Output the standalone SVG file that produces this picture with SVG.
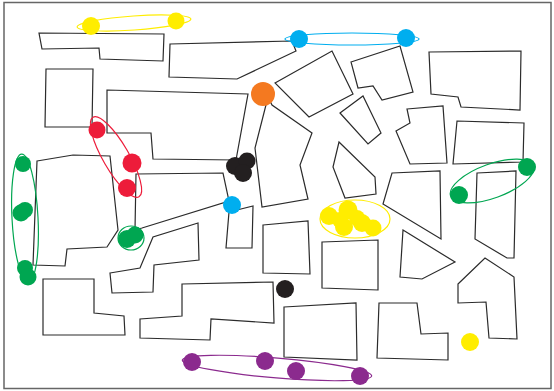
<svg xmlns="http://www.w3.org/2000/svg" width="554" height="391" viewBox="0 0 554 391">
<style>
.b{fill:none;stroke:#2b2b2b;stroke-width:1.2;stroke-linejoin:miter}
.frame{fill:#fff;stroke:#666;stroke-width:1.5}
.e{fill:none;stroke-width:1.2}
.y{fill:#FFED00}.ys{stroke:#FFED00}
.c{fill:#00AEEF}.cs{stroke:#00AEEF}
.r{fill:#ED1C3A}.rs{stroke:#ED1C3A}
.g{fill:#00A651}.gs{stroke:#00A651}
.p{fill:#8B2A8E}.ps{stroke:#8B2A8E}
.k{fill:#231F20}
.o{fill:#F47920}
</style>
<rect class="frame" x="4" y="2.5" width="547" height="386"/>
<g id="blocks">
<polygon class="b" points="39,33 164,34 163,61 100,59 99,48 42,49"/>
<polygon class="b" points="46,69 93,69 92,127 45,127"/>
<polygon class="b" points="107,90 248,94 236,160 153,159 151,133 107,133"/>
<polygon class="b" points="170,44 292,41 296,51 237,79 169,77"/>
<polygon class="b" points="268,97 255,148 262,207 308,199 300,165 312,133 272,105"/>
<polygon class="b" points="275,83 332,51 353,94 309,117"/>
<polygon class="b" points="351,62 400,46 413,92 382,100 373,86 358,88"/>
<polygon class="b" points="340,113 363,96 381,133 368,144"/>
<polygon class="b" points="429,52 521,51 520,110 461,107 458,97 431,94"/>
<polygon class="b" points="407,109 443,106 447,163 410,164 396,131 410,123"/>
<polygon class="b" points="457,121 524,123 523,162 453,164"/>
<polygon class="b" points="339,142 375,177 376,194 345,198 333,167"/>
<polygon class="b" points="392,173 440,171 441,239 383,204"/>
<polygon class="b" points="477,173 516,171 514,258 507,258 475,239"/>
<polygon class="b" points="37,161 73,155 110,156 118,230 107,247 67,249 65,266 33,265"/>
<polygon class="b" points="136,174 223,173 229,201 142,228 135,230"/>
<polygon class="b" points="229,212 253,206 252,248 226,248"/>
<polygon class="b" points="263,225 308,221 310,274 263,273"/>
<polygon class="b" points="322,242 378,240 378,290 322,288"/>
<polygon class="b" points="403,230 455,262 422,279 400,277"/>
<polygon class="b" points="458,284 485,258 514,277 517,339 489,338 486,302 458,303"/>
<polygon class="b" points="110,273 140,268 153,237 198,223 199,260 154,265 153,292 112,293"/>
<polygon class="b" points="43,279 94,279 94,313 124,316 125,335 43,335"/>
<polygon class="b" points="182,284 273,282 274,323 211,319 210,340 140,338 140,319 182,316"/>
<polygon class="b" points="284,307 356,303 357,360 284,357"/>
<polygon class="b" points="379,303 417,303 421,334 448,333 448,360 377,358"/>
</g>
<g id="groups">
<g id="yellow-top">
<ellipse class="e ys" cx="134" cy="23" rx="57" ry="7" transform="rotate(-4 134 23)"/>
<circle class="y" cx="91" cy="26" r="9"/>
<circle class="y" cx="176" cy="21" r="8.5"/>
</g>
<g id="blue-top">
<ellipse class="e cs" cx="352" cy="39" rx="67" ry="6"/>
<circle class="c" cx="299" cy="39" r="9"/>
<circle class="c" cx="406" cy="38" r="9"/>
</g>
<g id="orange">
<circle class="o" cx="263" cy="94" r="12"/>
</g>
<g id="red">
<ellipse class="e rs" cx="116" cy="157" rx="46" ry="13" transform="rotate(60 116 157)"/>
<circle class="r" cx="97" cy="130" r="8.5"/>
<circle class="r" cx="132" cy="163" r="9.5"/>
<circle class="r" cx="127" cy="188" r="9"/>
</g>
<g id="black">
<circle class="k" cx="235" cy="166" r="9"/>
<circle class="k" cx="247" cy="161" r="8.5"/>
<circle class="k" cx="243" cy="173" r="9"/>
<circle class="k" cx="285" cy="289" r="9"/>
</g>
<g id="blue-mid">
<circle class="c" cx="232" cy="205" r="9"/>
</g>
<g id="green-left">
<ellipse class="e gs" cx="25" cy="218" rx="13" ry="64" transform="rotate(-3 25 218)"/>
<circle class="g" cx="23" cy="164" r="8"/>
<circle class="g" cx="21" cy="213" r="8.5"/>
<circle class="g" cx="25" cy="210" r="8"/>
<circle class="g" cx="25" cy="268" r="8"/>
<circle class="g" cx="28" cy="277" r="8.5"/>
</g>
<g id="green-mid">
<ellipse class="e gs" cx="131" cy="238" rx="13" ry="12"/>
<circle class="g" cx="127" cy="239" r="9"/>
<circle class="g" cx="135" cy="235" r="8.5"/>
</g>
<g id="green-right">
<ellipse class="e gs" cx="492" cy="181" rx="44" ry="17" transform="rotate(-20 492 181)"/>
<circle class="g" cx="459" cy="195" r="9"/>
<circle class="g" cx="527" cy="167" r="9"/>
</g>
<g id="yellow-mid">
<ellipse class="e ys" cx="355" cy="219" rx="35" ry="19"/>
<circle class="y" cx="329" cy="216" r="9"/>
<circle class="y" cx="348" cy="210" r="9.5"/>
<circle class="y" cx="340" cy="220" r="8"/>
<circle class="y" cx="344" cy="227" r="9"/>
<circle class="y" cx="357" cy="218" r="8"/>
<circle class="y" cx="362" cy="223" r="9"/>
<circle class="y" cx="373" cy="228" r="8.5"/>
</g>
<g id="yellow-br">
<circle class="y" cx="470" cy="342" r="9"/>
</g>
<g id="purple">
<ellipse class="e ps" cx="277" cy="368" rx="95" ry="10" transform="rotate(4.8 277 368)"/>
<circle class="p" cx="192" cy="362" r="9"/>
<circle class="p" cx="265" cy="361" r="9"/>
<circle class="p" cx="296" cy="371" r="9"/>
<circle class="p" cx="360" cy="376" r="9"/>
</g>
</g>
</svg>
